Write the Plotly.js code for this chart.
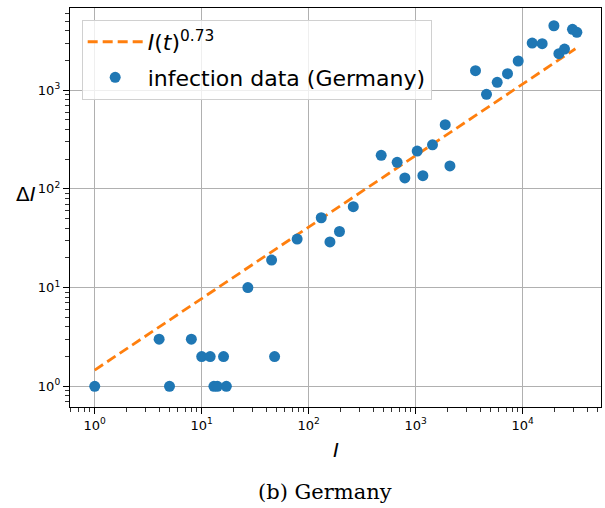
<!DOCTYPE html>
<html>
<head>
<meta charset="utf-8">
<script src="https://cdn.plot.ly/plotly-3.0.1.min.js"></script>
<style>html,body{margin:0;padding:0;background:#fff;} #chart{width:605px;height:508px;}</style>
</head>
<body>
<div id="chart"></div>
<script>
// infection data (Germany): cumulative infections I and new infections ΔI
var infectedI = [1, 4, 5, 8, 10, 12, 13, 14, 16, 17, 27, 45, 48, 78, 131, 158, 194, 261,
  476, 671, 792, 1033, 1167, 1436, 1888, 2089, 3622, 4590, 5780, 7215, 9080,
  12270, 15210, 19580, 21800, 24600, 29200, 32100];
var deltaI = [1, 3, 1, 3, 2, 2, 1, 1, 2, 1, 10, 19, 2, 31, 51, 29, 37, 66,
  219, 186, 129, 242, 136, 280, 447, 171, 1577, 908, 1203, 1469, 1977,
  3006, 2958, 4500, 2343, 2614, 4140, 3863];
// fitted power law I(t)^0.73, endpoints
var fitI = [1, 31100];
var fitDeltaI = [1.46, 2630];

var tickVals = [1, 10, 100, 1000, 10000];
var tickTextX = ['10<sup>0</sup>', '10<sup>1</sup>', '10<sup>2</sup>', '10<sup>3</sup>', '10<sup>4</sup>'];
var tickTextY = ['10<sup>0</sup>', '10<sup>1</sup>', '10<sup>2</sup>', '10<sup>3</sup>'];

var traces = [
  {
    x: fitI, y: fitDeltaI, mode: 'lines', type: 'scatter',
    name: '<i>I</i>(<i>t</i>)<sup>0.73</sup>', legendgroup: 'fit',
    line: {color: '#ff7f0e', width: 2.8, dash: '10px,5px'}
  },
  {
    x: infectedI, y: deltaI, mode: 'markers', type: 'scatter',
    name: 'infection data (Germany)', legendgroup: 'data',
    marker: {color: '#1f77b4', size: 11}
  }
];

var axisCommon = {
  type: 'log',
  showgrid: true, gridcolor: '#b0b0b0', gridwidth: 1,
  showline: true, linecolor: '#000', linewidth: 1.2, mirror: true,
  ticks: 'outside', ticklen: 6, tickwidth: 1, tickcolor: '#000',
  tickfont: {family: 'DejaVu Sans', size: 13, color: '#000'},
  tickmode: 'array',
  minor: {ticks: 'outside', ticklen: 3.5, tickwidth: 0.8, tickcolor: '#000', showgrid: false, dtick: 'D1'},
  zeroline: false
};

var layout = {
  width: 605, height: 508,
  margin: {l: 70, r: 4, t: 8, b: 101},
  paper_bgcolor: '#fff', plot_bgcolor: '#fff',
  showlegend: true,
  legend: {
    x: 0.022, y: 0.97, xanchor: 'left', yanchor: 'top',
    bgcolor: 'rgba(255,255,255,0.8)', bordercolor: '#d0d0d0', borderwidth: 1,
    font: {family: 'DejaVu Sans', size: 22, color: '#000'},
    itemwidth: 55,
    tracegroupgap: 4
  },
  xaxis: Object.assign({}, axisCommon, {
    range: [-0.231, 4.732], tickvals: tickVals, ticktext: tickTextX
  }),
  yaxis: Object.assign({}, axisCommon, {
    range: [-0.21, 3.833], tickvals: tickVals.slice(0, 4), ticktext: tickTextY
  }),
  annotations: [
    {text: '<i>I</i>', xref: 'paper', yref: 'paper', x: 0.501, y: -0.108, xanchor: 'center', yanchor: 'middle',
     showarrow: false, font: {family: 'DejaVu Sans', size: 20, color: '#000'}},
    {text: 'Δ<i>I</i>', xref: 'paper', yref: 'paper', x: -0.105, y: 0.535, xanchor: 'left', yanchor: 'middle',
     showarrow: false, font: {family: 'DejaVu Sans', size: 20, color: '#000'}},
    {text: '(b) Germany', xref: 'paper', yref: 'paper', x: 0.48, y: -0.213, xanchor: 'center', yanchor: 'middle',
     showarrow: false, font: {family: 'DejaVu Serif', size: 21, color: '#000'}}
  ]
};

Plotly.newPlot('chart', traces, layout, {displayModeBar: false, staticPlot: true});
</script>
</body>
</html>
